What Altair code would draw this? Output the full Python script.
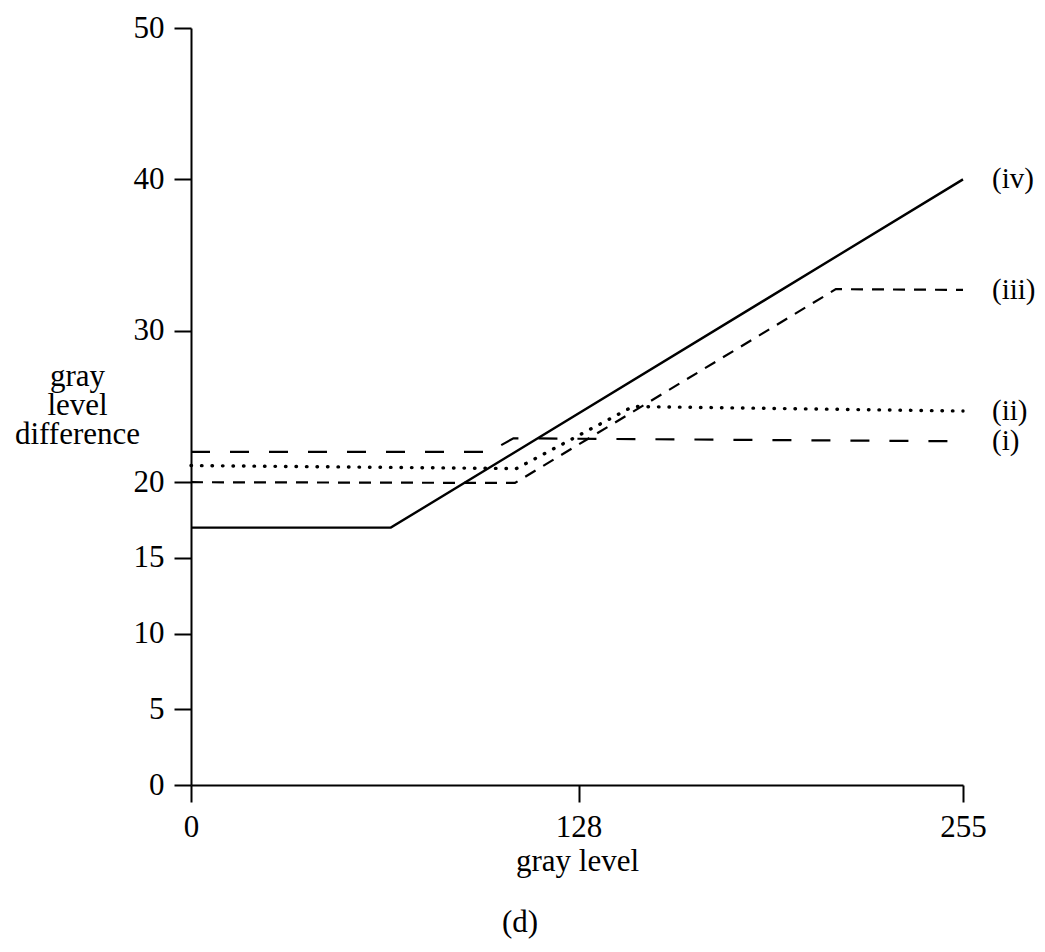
import altair as alt
import pandas as pd

# Series (gray level -> gray level difference)
series_names = ["(i)", "(ii)", "(iii)", "(iv)"]
x_i = [0, 98.5, 106.5, 255]
y_i = [22.0, 22.0, 22.9, 22.7]
x_ii = [0, 107.5, 146, 255]
y_ii = [21.1, 20.9, 25.0, 24.7]
x_iii = [0, 107, 213, 255]
y_iii = [20.0, 19.95, 32.75, 32.7]
x_iv = [0, 66, 255]
y_iv = [17.0, 17.0, 40.0]

x_ticks = [0, 128, 255]
y_ticks = [0, 5, 10, 15, 20, 30, 40, 50]

FONT = "Liberation Serif"
FS = 31

xs = [x_i, x_ii, x_iii, x_iv]
ys = [y_i, y_ii, y_iii, y_iv]
styles = [
    dict(strokeDash=[19, 20], strokeWidth=2.2),
    dict(strokeDash=[0.5, 10], strokeWidth=3.4, strokeCap="round"),
    dict(strokeDash=[12, 9], strokeWidth=2.2),
    dict(strokeWidth=2.4),
]

x_axis = alt.Axis(
    values=x_ticks, title="gray level", grid=False, tickSize=17,
    labelFont=FONT, labelFontSize=FS, labelColor="black", labelPadding=10,
    titleFont=FONT, titleFontSize=FS, titleFontWeight="normal", titleColor="black",
    titlePadding=4, domainColor="black", tickColor="black",
    domainWidth=2, tickWidth=2, labelFlush=False,
)
y_axis = alt.Axis(
    values=y_ticks, title=["gray", "level", "difference"], grid=False, tickSize=17,
    labelFont=FONT, labelFontSize=FS, labelColor="black", labelPadding=10,
    titleFont=FONT, titleFontSize=31, titleFontWeight="normal", titleColor="black",
    titleAngle=0, titleAlign="center", titleBaseline="middle", titleX=-114, titleY=348,
    titleLineHeight=29, domainColor="black", tickColor="black",
    domainWidth=2, tickWidth=2, labelFlush=False,
)
xenc = alt.X("x:Q", scale=alt.Scale(domain=[0, 255], nice=False, zero=False), axis=x_axis)
yenc = alt.Y("y:Q", scale=alt.Scale(domain=[0, 50], nice=False), axis=y_axis)

layers = []
for name, xv, yv, st in zip(series_names, xs, ys, styles):
    df = pd.DataFrame({"x": xv, "y": yv, "series": name})
    layers.append(alt.Chart(df).mark_line(color="black", **st).encode(x=xenc, y=yenc))

lab_df = pd.DataFrame({
    "x": [x[-1] for x in xs],
    "y": [y[-1] for y in ys],
    "label": series_names,
})
labels = alt.Chart(lab_df).mark_text(
    align="left", baseline="middle", dx=29, font=FONT, fontSize=29, color="black"
).encode(x=xenc, y=yenc, text="label:N")
layers.append(labels)

chart = alt.layer(*layers).properties(
    width=772, height=757,
    autosize=alt.AutoSizeParams(type="none"),
    padding={"left": 191, "top": 28, "right": 82, "bottom": 167},
    background="white",
    title=alt.TitleParams("(d)", orient="bottom", anchor="middle", dx=-57, offset=32,
                          font=FONT, fontSize=FS, fontWeight="normal", color="black"),
).configure_view(strokeWidth=0, stroke="transparent")

chart.save("out.html", embed_options={"renderer": "svg", "actions": False})
